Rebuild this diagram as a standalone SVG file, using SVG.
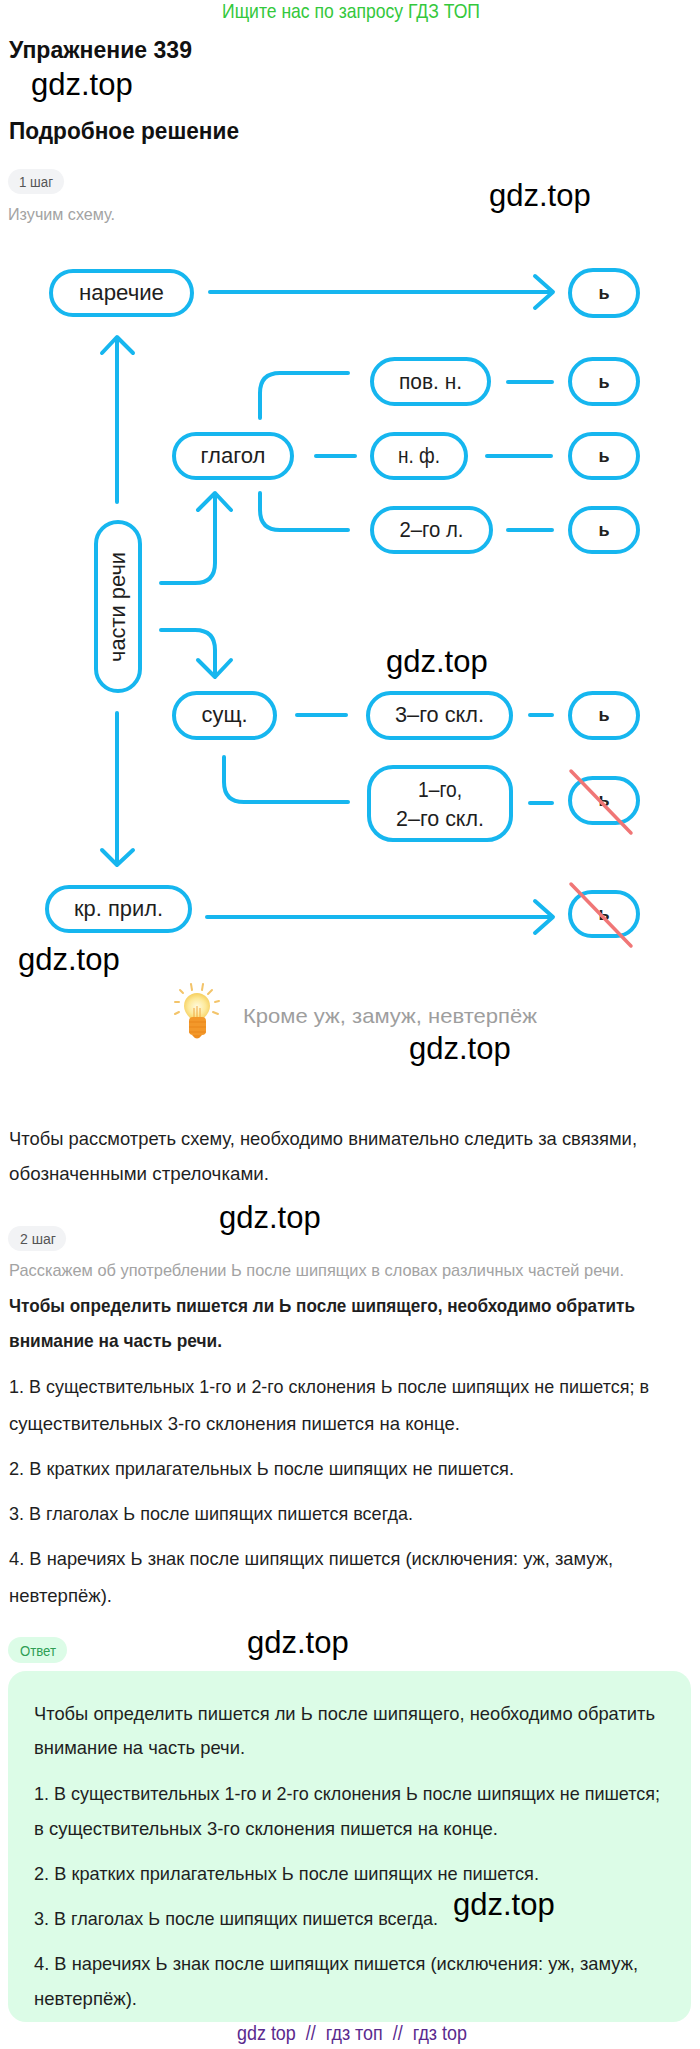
<svg xmlns="http://www.w3.org/2000/svg" width="700" height="2049" viewBox="0 0 700 2049">
<defs>
<style>
text{font-family:"Liberation Sans","DejaVu Sans",Arial,sans-serif}
.node rect{fill:#fff;stroke:#16b6ef;stroke-width:4}
.lbl{font-size:22px;fill:#1e1e1e;text-anchor:middle}
.soft{font-size:18px;font-weight:bold;fill:#222;text-anchor:middle}
.con path,.con line,.con polyline{fill:none;stroke:#16b6ef;stroke-width:4;stroke-linecap:round;stroke-linejoin:round}
.cross{stroke:#f07676;stroke-width:3.5;stroke-linecap:round}
.wm{font-size:31px;fill:#000}
.body{font-size:19px;fill:#1f1f1f}
.bold{font-size:19px;font-weight:bold;fill:#1f1f1f}
.gray{font-size:17px;fill:#a3a3a3}
.pilltxt{font-size:14px;fill:#555}
</style>
<radialGradient id="glass" cx="50%" cy="55%" r="55%">
<stop offset="0" stop-color="#fffbe0"/>
<stop offset="0.6" stop-color="#fde99a"/>
<stop offset="1" stop-color="#f6cf5e"/>
</radialGradient>
</defs>
<rect width="700" height="2049" fill="#fff"/>

<!-- header -->
<text x="222" y="18" font-size="21" fill="#34c83c" textLength="258" lengthAdjust="spacingAndGlyphs">Ищите нас по запросу ГДЗ ТОП</text>
<text x="9" y="58" font-size="23" font-weight="bold" fill="#111" textLength="183" lengthAdjust="spacingAndGlyphs">Упражнение 339</text>
<text class="wm" x="31" y="95">gdz.top</text>
<text x="9" y="139" font-size="23" font-weight="bold" fill="#111" textLength="230" lengthAdjust="spacingAndGlyphs">Подробное решение</text>
<rect x="8" y="169" width="56" height="25" rx="12.5" fill="#f2f3f5"/>
<text class="pilltxt" x="19" y="187" textLength="34" lengthAdjust="spacingAndGlyphs">1 шаг</text>
<text class="gray" x="8" y="220" textLength="107" lengthAdjust="spacingAndGlyphs">Изучим схему.</text>
<text class="wm" x="489" y="206">gdz.top</text>

<!-- connectors -->
<g id="connectors" class="con">
<line x1="210" y1="292" x2="552" y2="292"/>
<polyline points="535,276 553,292 535,308"/>
<line x1="117" y1="502" x2="117" y2="339"/>
<polyline points="102,353 117,337 133,353"/>
<path d="M260,418 V393 Q260,373 280,373 H348"/>
<line x1="508" y1="382" x2="552" y2="382"/>
<line x1="316" y1="456" x2="355" y2="456"/>
<line x1="487" y1="456" x2="551" y2="456"/>
<path d="M260,493 V510 Q260,530 280,530 H348"/>
<line x1="508" y1="530" x2="552" y2="530"/>
<path d="M161,583 H195 Q215,583 215,563 V495"/>
<polyline points="198,510 215,493 231,510"/>
<path d="M161,630 H195 Q215,630 215,650 V675"/>
<polyline points="198,660 215,677 231,660"/>
<line x1="297" y1="715" x2="346" y2="715"/>
<line x1="530" y1="715" x2="552" y2="715"/>
<path d="M224,757 V782 Q224,802 244,802 H348"/>
<line x1="530" y1="803" x2="552" y2="803"/>
<line x1="117" y1="713" x2="117" y2="863"/>
<polyline points="102,850 117,865 133,850"/>
<line x1="207" y1="917" x2="552" y2="917"/>
<polyline points="535,901 553,917 535,933"/>
</g>

<!-- nodes -->
<g id="n-narechie" class="node"><rect x="51" y="271" width="141" height="44" rx="22"/><text class="lbl" x="121.5" y="300" textLength="85" lengthAdjust="spacingAndGlyphs">наречие</text></g>
<g id="n-soft1" class="node"><rect x="570" y="270" width="68" height="46" rx="23"/><text class="soft" x="604" y="299">ь</text></g>
<g id="n-povn" class="node"><rect x="372" y="359" width="117" height="45" rx="22.5"/><text class="lbl" x="430.5" y="389" textLength="63" lengthAdjust="spacingAndGlyphs">пов. н.</text></g>
<g id="n-soft2" class="node"><rect x="570" y="359" width="68" height="45" rx="22.5"/><text class="soft" x="604" y="388">ь</text></g>
<g id="n-glagol" class="node"><rect x="174" y="434" width="118" height="44" rx="22"/><text class="lbl" x="233" y="463" textLength="65" lengthAdjust="spacingAndGlyphs">глагол</text></g>
<g id="n-nf" class="node"><rect x="372" y="434" width="94" height="44" rx="22"/><text class="lbl" x="419" y="463" textLength="42" lengthAdjust="spacingAndGlyphs">н. ф.</text></g>
<g id="n-soft3" class="node"><rect x="570" y="434" width="68" height="44" rx="22"/><text class="soft" x="604" y="462">ь</text></g>
<g id="n-2gol" class="node"><rect x="372" y="508" width="119" height="44" rx="22"/><text class="lbl" x="431.5" y="537" textLength="64" lengthAdjust="spacingAndGlyphs">2–го л.</text></g>
<g id="n-soft4" class="node"><rect x="570" y="508" width="68" height="44" rx="22"/><text class="soft" x="604" y="536">ь</text></g>
<g id="n-chasti" class="node"><rect x="96" y="522" width="44" height="169" rx="22"/><text class="lbl" transform="translate(125,607) rotate(-90)" x="0" y="0" textLength="110" lengthAdjust="spacingAndGlyphs">части речи</text></g>
<g id="n-sushch" class="node"><rect x="174" y="693" width="101" height="45" rx="22.5"/><text class="lbl" x="224.5" y="722" textLength="46" lengthAdjust="spacingAndGlyphs">сущ.</text></g>
<g id="n-3skl" class="node"><rect x="368" y="693" width="143" height="45" rx="22.5"/><text class="lbl" x="439.5" y="722" textLength="89" lengthAdjust="spacingAndGlyphs">3–го скл.</text></g>
<g id="n-soft5" class="node"><rect x="570" y="693" width="68" height="45" rx="22.5"/><text class="soft" x="604" y="721">ь</text></g>
<g id="n-12skl" class="node"><rect x="369" y="767" width="142" height="73" rx="24"/><text class="lbl" x="440" y="797" textLength="44" lengthAdjust="spacingAndGlyphs">1–го,</text><text class="lbl" x="440" y="826" textLength="88" lengthAdjust="spacingAndGlyphs">2–го скл.</text></g>
<g id="n-soft6" class="node"><rect x="570" y="778" width="68" height="45" rx="22.5"/><text class="soft" x="604" y="806">ь</text><line class="cross" x1="571" y1="771" x2="631" y2="833"/></g>
<g id="n-krpril" class="node"><rect x="47" y="887" width="143" height="44" rx="22"/><text class="lbl" x="118.5" y="916" textLength="89" lengthAdjust="spacingAndGlyphs">кр. прил.</text></g>
<g id="n-soft7" class="node"><rect x="570" y="892" width="68" height="44" rx="22"/><text class="soft" x="604" y="920">ь</text><line class="cross" x1="571" y1="884" x2="631" y2="946"/></g>

<text class="wm" x="386" y="672">gdz.top</text>
<text class="wm" x="18" y="970">gdz.top</text>

<!-- bulb -->
<g id="bulb">
<g stroke="#f3c46a" stroke-width="2" stroke-linecap="round">
<line x1="180" y1="990" x2="183" y2="993"/>
<line x1="191" y1="984" x2="192" y2="990"/>
<line x1="203" y1="984" x2="202" y2="990"/>
<line x1="212" y1="990" x2="208" y2="994"/>
<line x1="215" y1="1002" x2="219" y2="1001"/>
<line x1="213" y1="1012" x2="218" y2="1014"/>
<line x1="175" y1="1002" x2="179" y2="1002"/>
<line x1="175" y1="1014" x2="179" y2="1012"/>
</g>
<path d="M190,1018 Q184,1012 184,1006 A13,13 0 1 1 210,1006 Q210,1012 204,1018 Z" fill="url(#glass)"/>
<path d="M194,1017 V1008 M197,1017 V1006 M200,1017 V1008" stroke="#f0a640" stroke-width="1" fill="none"/>
<rect x="189" y="1017" width="17" height="18" rx="4" fill="#f3982a"/>
<path d="M189,1022 H206 M189,1027 H206 M189,1032 H206" stroke="#e9851a" stroke-width="1.2"/>
<path d="M192,1035 Q197,1042 202,1035 Z" fill="#ee8d20"/>
</g>
<text x="243" y="1023" font-size="21" fill="#9e9e9e" textLength="294" lengthAdjust="spacingAndGlyphs">Кроме уж, замуж, невтерпёж</text>
<text class="wm" x="409" y="1059">gdz.top</text>

<!-- explanation -->
<text class="body" x="9" y="1145" textLength="628" lengthAdjust="spacingAndGlyphs">Чтобы рассмотреть схему, необходимо внимательно следить за связями,</text>
<text class="body" x="9" y="1180" textLength="260" lengthAdjust="spacingAndGlyphs">обозначенными стрелочками.</text>
<text class="wm" x="219" y="1228">gdz.top</text>
<rect x="8" y="1226" width="58" height="25" rx="12.5" fill="#f2f3f5"/>
<text class="pilltxt" x="20" y="1244" textLength="36" lengthAdjust="spacingAndGlyphs">2 шаг</text>
<text class="gray" x="9" y="1276" textLength="615" lengthAdjust="spacingAndGlyphs">Расскажем об употреблении Ь после шипящих в словах различных частей речи.</text>
<text class="bold" x="9" y="1312" textLength="626" lengthAdjust="spacingAndGlyphs">Чтобы определить пишется ли Ь после шипящего, необходимо обратить</text>
<text class="bold" x="9" y="1347" textLength="213" lengthAdjust="spacingAndGlyphs">внимание на часть речи.</text>
<text class="body" x="9" y="1393" textLength="640" lengthAdjust="spacingAndGlyphs">1. В существительных 1-го и 2-го склонения Ь после шипящих не пишется; в</text>
<text class="body" x="9" y="1430" textLength="451" lengthAdjust="spacingAndGlyphs">существительных 3-го склонения пишется на конце.</text>
<text class="body" x="9" y="1475" textLength="505" lengthAdjust="spacingAndGlyphs">2. В кратких прилагательных Ь после шипящих не пишется.</text>
<text class="body" x="9" y="1520" textLength="404" lengthAdjust="spacingAndGlyphs">3. В глаголах Ь после шипящих пишется всегда.</text>
<text class="body" x="9" y="1565" textLength="604" lengthAdjust="spacingAndGlyphs">4. В наречиях Ь знак после шипящих пишется (исключения: уж, замуж,</text>
<text class="body" x="9" y="1602" textLength="103" lengthAdjust="spacingAndGlyphs">невтерпёж).</text>

<!-- answer -->
<rect x="8" y="1637" width="59" height="26" rx="13" fill="#dcfce7"/>
<text x="20" y="1656" font-size="14" fill="#2f9e55" textLength="36" lengthAdjust="spacingAndGlyphs">Ответ</text>
<text class="wm" x="247" y="1653">gdz.top</text>
<rect x="8" y="1671" width="683" height="351" rx="18" fill="#dcfce7"/>
<text class="body" x="34" y="1720" textLength="621" lengthAdjust="spacingAndGlyphs">Чтобы определить пишется ли Ь после шипящего, необходимо обратить</text>
<text class="body" x="34" y="1754" textLength="211" lengthAdjust="spacingAndGlyphs">внимание на часть речи.</text>
<text class="body" x="34" y="1800" textLength="626" lengthAdjust="spacingAndGlyphs">1. В существительных 1-го и 2-го склонения Ь после шипящих не пишется;</text>
<text class="body" x="34" y="1835" textLength="464" lengthAdjust="spacingAndGlyphs">в существительных 3-го склонения пишется на конце.</text>
<text class="body" x="34" y="1880" textLength="505" lengthAdjust="spacingAndGlyphs">2. В кратких прилагательных Ь после шипящих не пишется.</text>
<text class="body" x="34" y="1925" textLength="404" lengthAdjust="spacingAndGlyphs">3. В глаголах Ь после шипящих пишется всегда.</text>
<text class="wm" x="453" y="1915">gdz.top</text>
<text class="body" x="34" y="1970" textLength="604" lengthAdjust="spacingAndGlyphs">4. В наречиях Ь знак после шипящих пишется (исключения: уж, замуж,</text>
<text class="body" x="34" y="2005" textLength="103" lengthAdjust="spacingAndGlyphs">невтерпёж).</text>

<text x="237" y="2040" font-size="20" fill="#5b2a8e" textLength="230" lengthAdjust="spacingAndGlyphs" xml:space="preserve">gdz top  //  гдз топ  //  гдз top</text>
</svg>
